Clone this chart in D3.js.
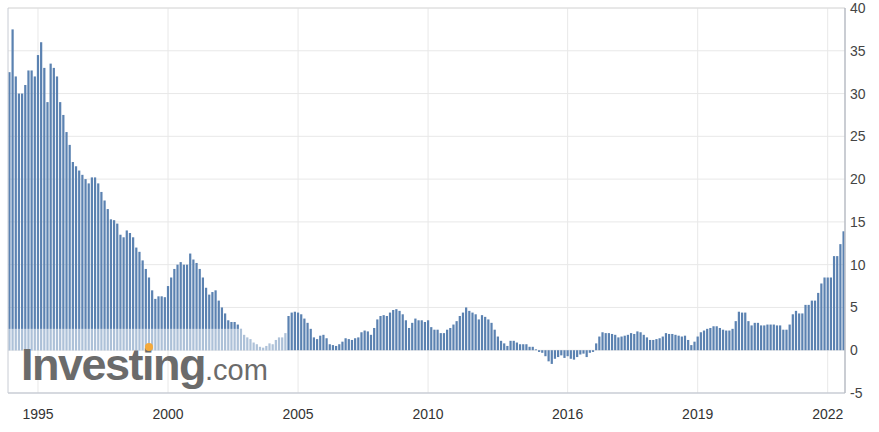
<!DOCTYPE html><html><head><meta charset="utf-8">
<script src="https://cdn.jsdelivr.net/npm/d3@7"></script>
<style>body{margin:0;background:#fff}svg{font-family:Arial,"Liberation Sans",sans-serif}</style></head><body>
<svg id="c" width="879" height="432"></svg>
<script>
const values = [32.5,37.5,32,30,30,31,32.7,32.7,32,34.5,36,33,29,33.5,33,32,29,27.5,25.5,24,22,21.5,21,20.5,20,19.5,20.2,20.2,19.5,18.5,17.5,16.5,15.3,15.2,14.8,13.5,13.2,14,13.7,13.2,12,11.5,10.5,9.5,8.5,7,6,6.3,6.3,6.2,
7.5,8.5,9.5,10,10.3,10,10,11.3,10.6,10.2,9.5,8.5,7.3,6.5,6.8,7,5.8,5,4.3,3.5,3.3,3.3,3.0,2.5,1.8,1.5,1.3,0.9,0.7,0.4,0.3,0.5,0.8,0.7,1.2,1.5,1.5,2.0,
4.0,4.4,4.5,4.4,4.2,3.7,3.2,2.5,1.5,1.3,1.7,1.8,1.4,0.7,0.6,0.5,0.7,1.0,1.4,1.3,1.2,1.4,1.5,2.1,2.3,2.2,1.8,2.6,3.6,4.0,4.1,4.0,4.4,4.7,4.8,4.6,4.2,3.5,2.6,3.2,3.7,3.5,3.5,3.3,3.5,2.7,2.4,2.4,2.0,2.0,2.4,2.6,3.0,3.4,4.0,4.4,5.0,4.6,4.4,4.2,3.6,4.1,3.9,3.6,3.2,2.4,1.6,1.1,0.8,0.5,1.1,1.1,0.9,0.7,0.7,0.7,0.4,0.4,0.1,
-0.2,-0.3,-0.7,-1.3,-1.6,-1.0,-0.8,-0.6,-0.9,-0.7,-1.0,-1.1,-0.8,-0.5,-0.4,-0.8,-0.3,-0.2,
0.8,1.6,2.1,2.0,2.0,1.9,1.8,1.5,1.6,1.7,1.8,2.0,1.9,2.2,2.1,1.8,1.5,1.2,1.2,1.3,1.4,1.6,2.0,1.9,1.9,1.8,1.7,1.6,1.7,1.2,0.6,
1.0,1.6,2.1,2.3,2.5,2.6,2.8,2.8,2.6,2.4,2.3,2.3,2.5,3.4,4.5,4.4,4.4,3.4,2.9,3.2,3.2,2.9,2.9,3.0,3.0,3.0,2.9,2.9,2.4,2.4,3.0,4.2,4.6,4.3,4.3,5.3,5.3,5.8,5.8,6.7,7.8,8.5,8.5,8.5,11.0,11.0,12.4,13.9];
const tickLabels = ["1995","2000","2005","2010","2016","2019","2022"];
const tickFrac = [0.0347,0.19,0.345,0.4994,0.668,0.823,0.977];
const yTicks = [-5,0,5,10,15,20,25,30,35,40];

const svg = d3.select("#c");
const L=8,R=845,T=8,B=393;
const N=values.length;
const x = d3.scaleBand().domain(d3.range(N)).range([L,R]).paddingInner(0.3).paddingOuter(0.1);
const y = d3.scaleLinear().domain([-5,40]).range([B,T]);
const tickIdx = tickFrac.map(f=>Math.round(f*N));
const cx = i => x(i)+x.bandwidth()/2;

svg.append("g").selectAll("line").data(yTicks.slice(1)).join("line")
 .attr("x1",L).attr("x2",R).attr("y1",d=>y(d)).attr("y2",d=>y(d)).attr("stroke","#e8e8e8");
svg.append("g").selectAll("line").data(tickIdx).join("line")
 .attr("x1",cx).attr("x2",cx).attr("y1",T).attr("y2",B).attr("stroke","#e8e8e8");

svg.append("g").selectAll("rect").data(values).join("rect")
 .attr("x",(d,i)=>x(i)).attr("width",x.bandwidth())
 .attr("y",d=>y(Math.max(0,d))).attr("height",d=>Math.abs(y(d)-y(0)))
 .attr("fill","#5b82b1");

// watermark overlay ends before the 2004 jump
let wEnd = 40; while(!(values[wEnd]>=3.9 && values[wEnd-1]<2.5)) wEnd++;
svg.append("rect").attr("x",L).attr("y",y(2.5)).attr("width",x(wEnd)-L-0.5).attr("height",y(0)-y(2.5)).attr("fill","#fff").attr("opacity",0.5);
const wm = svg.append("text").attr("x",21).attr("y",380).attr("fill","#6b6b6b");
wm.append("tspan").attr("font-size",45).attr("font-weight","bold").attr("letter-spacing",-1.5).text("Investing");
wm.append("tspan").attr("font-size",29).text(".com");
svg.append("circle").attr("cx",149).attr("cy",347).attr("r",4).attr("fill","#f4a93b");

// frame
svg.append("line").attr("x1",L).attr("x2",R).attr("y1",T).attr("y2",T).attr("stroke","#dcdcdc");
svg.append("line").attr("x1",L).attr("x2",L).attr("y1",T).attr("y2",B).attr("stroke","#c8ccd4");
svg.append("line").attr("x1",L).attr("x2",R).attr("y1",B).attr("y2",B).attr("stroke","#c8ccd4").attr("stroke-width",1.5);
svg.append("line").attr("x1",R).attr("x2",R).attr("y1",T).attr("y2",B).attr("stroke","#b8bcc4").attr("stroke-width",1.5);

svg.append("g").selectAll("text").data(yTicks).join("text")
 .attr("x",850).attr("y",d=>y(d)+5).attr("font-size",14).attr("fill","#444").text(d=>d);
svg.append("g").selectAll("text").data(tickIdx).join("text")
 .attr("x",cx).attr("y",419).attr("text-anchor","middle").attr("font-size",14).attr("fill","#333")
 .text((d,i)=>tickLabels[i]);
</script></body></html>
